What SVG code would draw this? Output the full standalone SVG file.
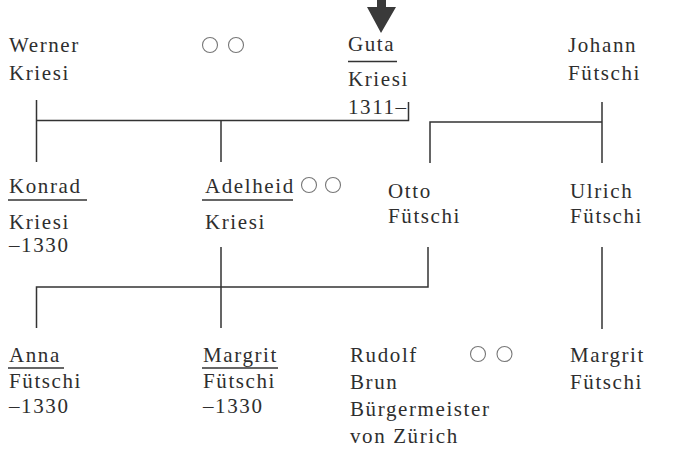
<svg xmlns="http://www.w3.org/2000/svg" width="687" height="450" viewBox="0 0 687 450">
<style>
text{font-family:"Liberation Serif","Times New Roman",serif;font-size:21px;letter-spacing:1.6px;fill:#2e2e2e}
.ln{stroke:#333;stroke-width:1.5;fill:none}
.ul{stroke:#333;stroke-width:1.5}
.ring{fill:none;stroke:#777;stroke-width:1.1}
</style>
<rect width="687" height="450" fill="#fff"/>
<g id="arrow"><polygon points="377,0 386,0 386,7 396,7 381,33 367,7 377,7" fill="#3a3a3a"/></g>
<g id="connectors">
<path class="ln" d="M36.5,100 V162 M36.5,120.5 H408.5 V102 M221,120.5 V162"/>
<path class="ln" d="M602,102 V163 M602,122 H430 V163"/>
<path class="ln" d="M428,247 V287 H36.5 V328 M221,247 V328"/>
<path class="ln" d="M602,247 V329"/>
</g>
<g id="werner"><text x="9" y="52">Werner</text><text x="9" y="80">Kriesi</text></g>
<g id="marriage1"><circle class="ring" cx="210" cy="45" r="7.5"/><circle class="ring" cx="236" cy="45" r="7.5"/></g>
<g id="guta"><text x="348" y="51">Guta</text><line class="ul" x1="348" y1="61.5" x2="397" y2="61.5"/><text x="348" y="86">Kriesi</text><text x="348" y="114">1311–</text></g>
<g id="johann"><text x="568" y="52">Johann</text><text x="568" y="80">Fütschi</text></g>
<g id="konrad"><text x="9" y="193">Konrad</text><line class="ul" x1="8" y1="200" x2="87" y2="200"/><text x="9" y="229">Kriesi</text><text x="9" y="252">–1330</text></g>
<g id="adelheid"><text x="205" y="193">Adelheid</text><line class="ul" x1="202" y1="200" x2="293" y2="200"/><text x="205" y="229">Kriesi</text><circle class="ring" cx="309" cy="185" r="7.5"/><circle class="ring" cx="333" cy="185" r="7.5"/></g>
<g id="otto"><text x="388" y="198">Otto</text><text x="388" y="223">Fütschi</text></g>
<g id="ulrich"><text x="570" y="198">Ulrich</text><text x="570" y="223">Fütschi</text></g>
<g id="anna"><text x="9" y="362">Anna</text><line class="ul" x1="8" y1="368" x2="64" y2="368"/><text x="9" y="388">Fütschi</text><text x="9" y="413">–1330</text></g>
<g id="margrit1"><text x="203" y="362">Margrit</text><line class="ul" x1="202" y1="368" x2="278" y2="368"/><text x="203" y="388">Fütschi</text><text x="203" y="413">–1330</text></g>
<g id="rudolf"><text x="350" y="362">Rudolf</text><text x="350" y="389">Brun</text><text x="350" y="416">Bürgermeister</text><text x="350" y="443">von Zürich</text><circle class="ring" cx="478" cy="354" r="7.5"/><circle class="ring" cx="504.5" cy="354" r="7.5"/></g>
<g id="margrit2"><text x="570" y="362">Margrit</text><text x="570" y="389">Fütschi</text></g>
</svg>
